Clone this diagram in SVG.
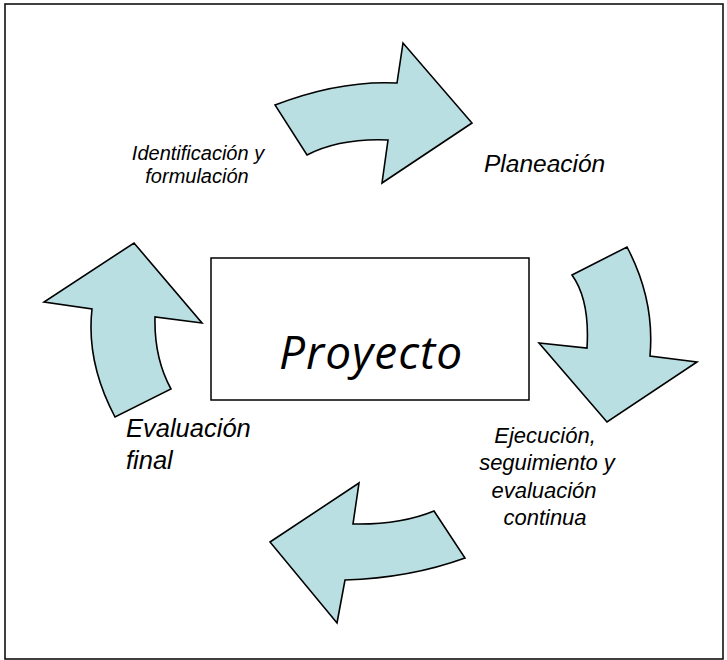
<svg xmlns="http://www.w3.org/2000/svg" width="727" height="660" viewBox="0 0 727 660">
<style>
.arrow{fill:#B9DFE3;stroke:#000;stroke-width:1.6;stroke-linejoin:miter}
.lbl{font-family:"Liberation Sans",Arial,sans-serif;font-style:italic;fill:#000}
</style>
<rect x="0" y="0" width="727" height="660" fill="#fff"/>
<rect x="5" y="4" width="718" height="655" fill="none" stroke="#111" stroke-width="1.6"/>
<g id="proyecto">
<rect x="211" y="258" width="318" height="142" fill="#fff" stroke="#000" stroke-width="1.5"/>
<text x="371" y="369" text-anchor="middle" font-family="'Open Sans',sans-serif" font-style="italic" font-size="46" letter-spacing="1">Proyecto</text>
</g>
<g id="connectors">
<path id="arrow-top" class="arrow" d="M275,105 Q340,80 397,83 L403,43 L472,123 L382,183 L388,140 Q340,138 307,155 Z"/>
<path id="arrow-right" class="arrow" d="M572,275 L627,247 Q655,300 650,356 L697,362 L607,422 L539,343 L587,348 Q590,300 572,275 Z"/>
<path id="arrow-bottom" class="arrow" d="M434,511 L465,558 Q410,578 345,580 L337,623 L270,542 L359,483 L353,524 Q400,525 434,511 Z"/>
<path id="arrow-left" class="arrow" d="M134,243 L202,323 L155,317 Q154,358 171,389 L115,417 Q86,362 92,309 L44,302 Z"/>
</g>
<g id="identificacion">
<text class="lbl" x="198" y="160" text-anchor="middle" font-size="20">Identificación y</text>
<text class="lbl" x="197" y="183" text-anchor="middle" font-size="20">formulación</text>
</g>
<g id="planeacion">
<text class="lbl" x="484" y="172" font-size="24.5">Planeación</text>
</g>
<g id="ejecucion">
<text class="lbl" x="545" y="443" text-anchor="middle" font-size="22">Ejecución,</text>
<text class="lbl" x="547" y="470" text-anchor="middle" font-size="22">seguimiento y</text>
<text class="lbl" x="544" y="498" text-anchor="middle" font-size="22">evaluación</text>
<text class="lbl" x="545" y="525" text-anchor="middle" font-size="22">continua</text>
</g>
<g id="evaluacion">
<text class="lbl" x="126" y="437" font-size="25.5">Evaluación</text>
<text class="lbl" x="126" y="469" font-size="25.5">final</text>
</g>
</svg>
